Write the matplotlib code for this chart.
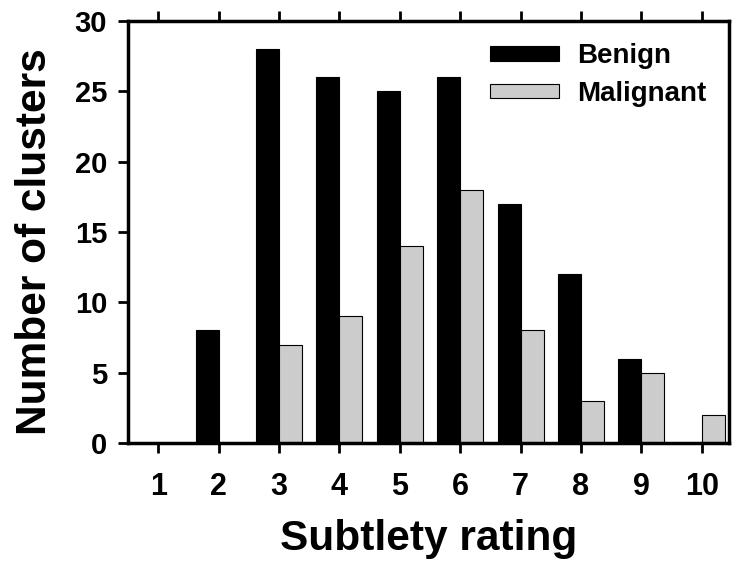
import numpy as np
import matplotlib
matplotlib.use("Agg")
import matplotlib.pyplot as plt

ratings = [1, 2, 3, 4, 5, 6, 7, 8, 9, 10]
benign = [0, 8, 28, 26, 25, 26, 17, 12, 6, 0]
malignant = [0, 0, 7, 9, 14, 18, 8, 3, 5, 2]

plt.rcParams['font.family'] = ['Liberation Sans', 'DejaVu Sans']
plt.rcParams['font.weight'] = 'bold'

fig = plt.figure(figsize=(7.34, 5.70), dpi=100)
ax = fig.add_axes([128 / 734, 1 - 443 / 570, (729 - 128) / 734, (443 - 21) / 570])

x = np.array(ratings)
w = 0.38
ax.bar(x - w / 2, benign, width=w, color='black', edgecolor='black',
       linewidth=0.8, label='Benign')
ax.bar(x + w / 2, malignant, width=w, color='#cccccc', edgecolor='black',
       linewidth=0.8, label='Malignant')

ax.set_xlim(0.5, 10.45)
ax.set_ylim(0, 30)
ax.set_xticks(ratings)
ax.set_yticks([0, 5, 10, 15, 20, 25, 30])

for s in ax.spines.values():
    s.set_linewidth(2.5)

ax.tick_params(axis='both', direction='out', length=7, width=2)
ax.tick_params(axis='x', top=True, labelsize=22, pad=14)
ax.tick_params(axis='y', right=False, labelsize=21, pad=8)

ax.set_xlabel('Subtlety rating', fontsize=30.5, fontweight='bold', labelpad=12)
ax.set_ylabel('Number of clusters', fontsize=30.5, fontweight='bold')
ax.yaxis.set_label_coords(-0.122, 0.478)

ax.legend(loc='upper right', frameon=False, fontsize=20,
          handlelength=2.5, handleheight=0.42, borderaxespad=0.2,
          labelspacing=0.42, handletextpad=0.65, borderpad=0.6)

fig.savefig('out.png', dpi=100)
